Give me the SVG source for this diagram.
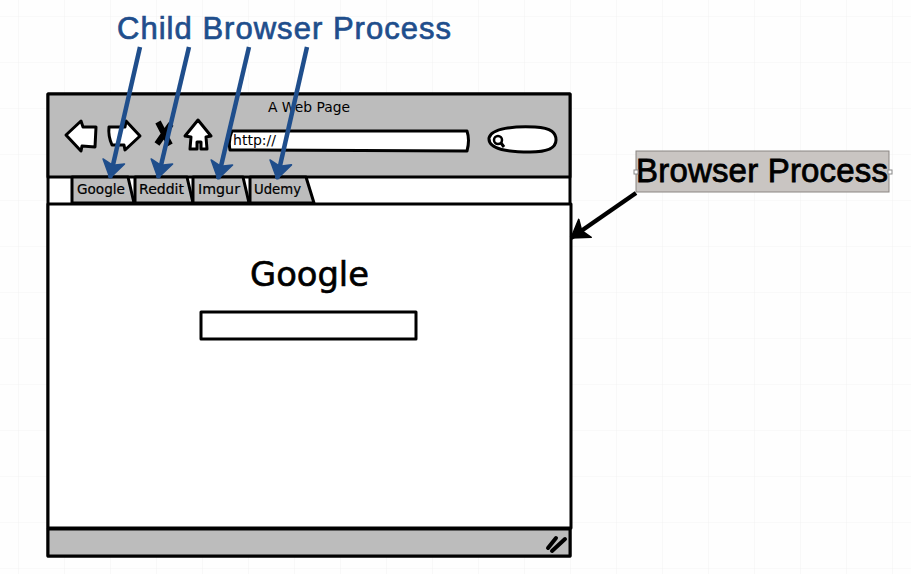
<svg xmlns="http://www.w3.org/2000/svg" width="911" height="574" viewBox="0 0 911 574">
<defs>
<marker id="bh" markerUnits="userSpaceOnUse" markerWidth="24" markerHeight="26" refX="18" refY="13" orient="auto"><path d="M1 2L18 13L1 24L5 13Z" fill="#1f4e8c" stroke="#1f4e8c" stroke-width="1.500" stroke-linejoin="round"/></marker>
<marker id="kh" markerUnits="userSpaceOnUse" markerWidth="24" markerHeight="26" refX="18" refY="13" orient="auto"><path d="M1 2L18 13L1 24L5 13Z" fill="#000" stroke="#000" stroke-width="1.500" stroke-linejoin="round"/></marker>
<pattern id="grid" width="46" height="46" patternUnits="userSpaceOnUse" x="18" y="16"><path d="M46 0H0V46" fill="none" stroke="#f3f3f3" stroke-width="1.2"/></pattern>
</defs>
<style>
.o{stroke:#000;stroke-width:3;stroke-linejoin:round;stroke-linecap:round}
.w{fill:#fff}.g{fill:#bcbcbc}
text{font-family:"DejaVu Sans","Liberation Sans",sans-serif;fill:#000}
.tab{font-size:13.5px;text-anchor:middle;stroke:#000;stroke-width:.2}
.blue{stroke:#1f4e8c;stroke-width:4.5;fill:none}
.arial{font-family:"Liberation Sans",Arial,sans-serif}
</style>
<rect width="911" height="574" fill="#fefefe"/>
<rect width="911" height="574" fill="url(#grid)"/>
<g id="browser-window">
<rect class="o w" x="48" y="94" width="522" height="462"/>
<rect class="o g" x="48" y="94" width="522" height="83"/>
<path d="M48 529H570V556H48Z" class="o g" stroke-width="2.5"/>
<text x="309" y="112" font-size="14" text-anchor="middle" textLength="82" lengthAdjust="spacingAndGlyphs">A Web Page</text>
<path d="M548 548L556 538M552 551L565 539" fill="none" stroke="#000" stroke-width="4" stroke-linecap="round"/>
</g>
<g id="nav-buttons">
<path class="o w" d="M66 135L81 121L83 127H96L95 147L82 146L81 151Z"/>
<path class="o w" d="M109 127H125L126 121L140 136L125 150L124 145H112Q108 136 109 127Z"/>
<path d="M158 122L170 145M171 124L157 144" stroke="#000" stroke-width="6" fill="none"/>
<path class="o w" d="M198 120L185 136L191 137L190 149H197V142H201V149H207L206 137L211 136Z"/>
</g>
<g id="address-bar">
<path class="o w" d="M232 131L467 131Q470 140 467 151L230 150Q228 140 232 131Z"/>
<text x="233" y="145" font-size="14" textLength="43" lengthAdjust="spacingAndGlyphs">http://</text>
</g>
<g id="search-box">
<path class="o w" d="M489 138C491 128 515 126 535 127C552 128 556 133 556 140C556 148 548 152 530 152C510 152 488 150 489 138Z"/>
<circle cx="498" cy="140" r="4" fill="none" stroke="#000" stroke-width="2.5"/>
<path d="M501 143L504 147" stroke="#000" stroke-width="3"/>
</g>
<g id="tab-google"><path class="o g" d="M72 177V203H134L128 177Z" stroke-width="2"/><text class="tab" x="101" y="194" textLength="48" lengthAdjust="spacingAndGlyphs">Google</text></g>
<g id="tab-reddit"><path class="o g" d="M135 177V203H193L187 177Z" stroke-width="2"/><text class="tab" x="161.500" y="194" textLength="45" lengthAdjust="spacingAndGlyphs">Reddit</text></g>
<g id="tab-imgur"><path class="o g" d="M193 177V203H249L243 177Z" stroke-width="2"/><text class="tab" x="219" y="194" textLength="42" lengthAdjust="spacingAndGlyphs">Imgur</text></g>
<g id="tab-udemy"><path class="o g" d="M250 177V203H314L306 177Z" stroke-width="2"/><text class="tab" x="277.500" y="194" textLength="47" lengthAdjust="spacingAndGlyphs">Udemy</text></g>
<g id="page-content">
<rect class="o w" x="48" y="204" width="523" height="324" stroke-width="2.500"/>
<text x="309.500" y="286" font-size="33" text-anchor="middle" style="stroke:#000;stroke-width:.6" textLength="119" lengthAdjust="spacingAndGlyphs">Google</text>
<path class="o w" d="M201 312H416V339H201Z"/>
</g>
<g id="child-browser-process"><text class="arial" x="284" y="39" font-size="31" style="fill:#1f4e8c;stroke:#1f4e8c;stroke-width:.7" text-anchor="middle" textLength="334">Child Browser Process</text></g>
<g id="browser-process">
<rect x="636" y="151" width="253" height="41" fill="#c9c5c2" stroke="#8a8582"/>
<text class="arial" x="762" y="182" font-size="33" text-anchor="middle" style="stroke:#000;stroke-width:.8" textLength="252">Browser Process</text>
<rect x="634" y="170" width="4" height="4" fill="#fff" stroke="#888"/>
<rect x="888" y="170" width="4" height="4" fill="#fff" stroke="#888"/>
</g>
<g id="connectors">
<path class="blue" d="M140 47L110 178" marker-end="url(#bh)"/>
<path class="blue" d="M189 47L158 178" marker-end="url(#bh)"/>
<path class="blue" d="M249 47L218 179" marker-end="url(#bh)"/>
<path class="blue" d="M307 47L277 179" marker-end="url(#bh)"/>
<path d="M636 193L571 238" stroke="#000" stroke-width="4.5" fill="none" marker-end="url(#kh)"/>
</g>
</svg>
